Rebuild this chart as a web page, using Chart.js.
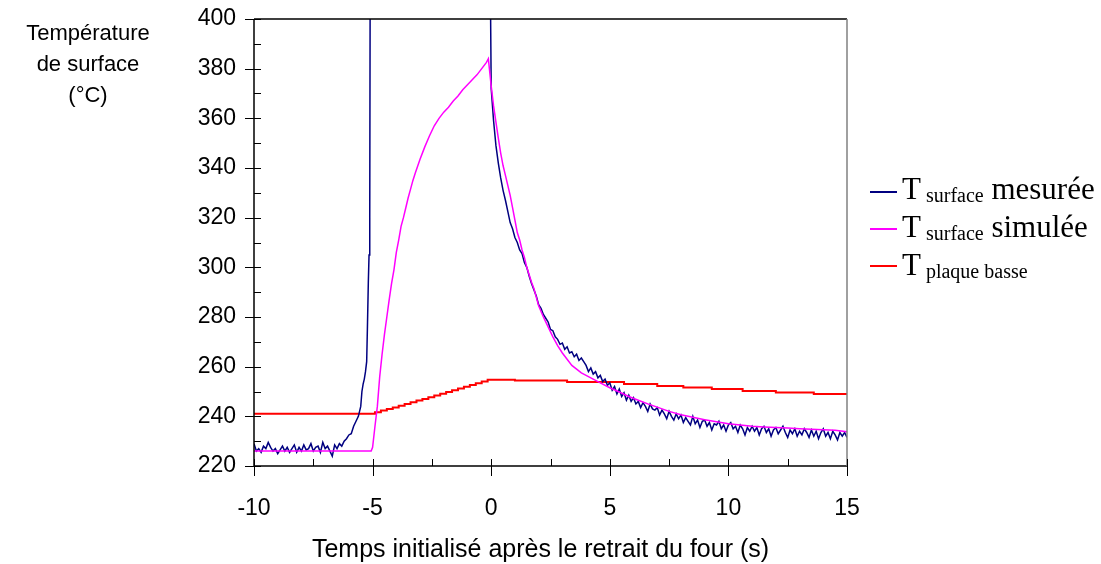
<!DOCTYPE html>
<html>
<head>
<meta charset="utf-8">
<script src="https://cdn.jsdelivr.net/npm/chart.js@4"></script>
<style>
  body { margin: 0; background: #fff; }
  #wrap { position: relative; width: 1101px; height: 564px; }
  .ytitle { position: absolute; left: 0; top: 17px; width: 176px; text-align: center;
            font: 22px "Liberation Sans", Arial, sans-serif; line-height: 31px; color: #000; }
  .xtitle { position: absolute; left: 0; top: 533px; width: 1081px; text-align: center;
            font: 25px "Liberation Sans", Arial, sans-serif; line-height: 30px; color: #000; }
  .leg-line { position: absolute; left: 870px; width: 27px; height: 0; border-top: 2px solid; }
  .leg-text { position: absolute; left: 902px; white-space: nowrap; color: #000;
              font: 31px "Liberation Serif", "Times New Roman", serif; line-height: 31px; }
  .leg-text span { font-size: 20px; position: relative; top: 3px; }
</style>
</head>
<body>
<div id="wrap">
  <canvas id="chart" width="1101" height="564"></canvas>
  <div class="ytitle">Température<br>de surface<br>(°C)</div>
  <div class="xtitle">Temps initialisé après le retrait du four (s)</div>
  <div class="leg-line" style="top:191px;border-color:#000080"></div>
  <div class="leg-text" style="top:173px">T<span> surface</span> mesurée</div>
  <div class="leg-line" style="top:228px;border-color:#ff00ff"></div>
  <div class="leg-text" style="top:211px">T<span> surface</span> simulée</div>
  <div class="leg-line" style="top:265px;border-color:#ff0000"></div>
  <div class="leg-text" style="top:249px">T<span> plaque basse</span></div>
</div>
<script>
// --- measured surface temperature ---
// flat part before heating, one value every 0.1 s starting at -10 s
const mesFlat = [229, 226, 227, 225.5, 228, 227, 229.5, 227.5, 226, 227,
  225, 226.5, 228, 226, 227.5, 225.5, 227, 228.5, 225.5, 227.5,
  226, 228.5, 226.5, 227, 229, 226, 227.5, 228, 225.5, 229.5,
  227, 228, 226, 224, 228.5, 227, 229, 228, 230, 231, 232.5];
// fast rise (last value is off the chart, above 400)
const mesRiseT = [-5.9, -5.8, -5.7, -5.6, -5.5, -5.45, -5.4, -5.35, -5.3, -5.25, -5.22, -5.18, -5.15, -5.12, -5.1];
const mesRiseY = [233, 236, 238, 240, 244, 250, 253, 255, 258, 262, 275, 294, 305, 320, 430];
// cooling after the sample leaves the oven, one value every 0.1 s from 0 s
const mesCool = [372, 359, 349, 342, 336, 331, 327, 322.5, 318, 315.5,
  312, 310, 307, 305.5, 302, 300, 296.5, 293.5, 291, 288.5,
  285, 283.5, 281, 279.5, 278, 275, 274.5, 272, 271, 269,
  269.5, 267, 268, 265.5, 266, 264, 265, 262.5, 263.5, 262,
  260.5, 258, 259.5, 257, 258, 255.5, 256.5, 254, 255, 252.5,
  253.5, 250.5, 252, 249, 251, 248, 249.5, 246.5, 248.5, 246,
  247.5, 245, 246, 243.5, 245.5, 244, 242, 245, 243, 242.5,
  243.5, 240.5, 242.5, 241, 239, 242, 240, 238.5, 241, 239,
  240.5, 237.5, 239.5, 238, 236.5, 240, 237, 238.5, 235.5, 238,
  238.5, 236, 237.5, 234.5, 237, 236.5, 238, 235, 236.5, 234,
  236.5, 237.5, 235, 236, 233.5, 236.5, 235, 232.5, 235.5, 234,
  236, 234, 235.5, 232.5, 235, 236, 233.5, 235, 232, 234.5,
  235.5, 233, 234.5, 236, 233.5, 231.5, 234.5, 233, 235, 232,
  234, 232.5, 235, 233.5, 231.5, 234.5, 232, 234, 231, 233.5,
  235, 232, 233.5, 231, 234, 232.5, 230.5, 233.5, 232, 233.5, 231.5];

// --- simulated surface temperature ---
const simT = [-10, -5.06, -5.0, -4.9, -4.8, -4.7, -4.6, -4.5, -4.4, -4.3, -4.2, -4.1, -4.0,
  -3.9, -3.8, -3.7, -3.6, -3.5, -3.4, -3.3, -3.2, -3.0, -2.8, -2.6, -2.4, -2.2, -2.0,
  -1.8, -1.6, -1.4, -1.2, -1.0, -0.8, -0.6, -0.4, -0.2, -0.12,
  0.0, 0.1, 0.2, 0.3, 0.4, 0.5, 0.6, 0.7, 0.8, 0.9, 1.0, 1.1, 1.2, 1.3, 1.4, 1.5,
  1.6, 1.7, 1.8, 1.9, 2.0, 2.2, 2.4, 2.6, 2.8, 3.0, 3.2, 3.4, 3.6, 3.8, 4.0, 4.3,
  4.6, 5.0, 5.4, 5.8, 6.2, 6.6, 7.0, 7.5, 8.0, 8.5, 9.0, 9.5, 10.0, 10.5, 11.0,
  11.5, 12.0, 12.5, 13.0, 13.5, 14.0, 14.5, 15.0];
const simY = [226, 226, 227.5, 236, 244, 256, 265, 273, 280, 287, 293.5, 299, 306,
  311, 316.5, 320, 324, 328, 331.5, 335, 338, 343.5, 348.5, 353, 357, 360, 362.5,
  364.5, 367, 369, 371.5, 373.5, 375.5, 377.5, 380, 382.5, 384,
  373, 365, 358.5, 352, 346, 341, 337, 333, 329, 324, 319, 314, 311, 307, 304, 300,
  297, 294, 291.5, 288, 284.5, 280, 276, 272, 268.5, 265.5, 263, 260.5, 259, 257.5, 256.5, 255,
  253.5, 251.5, 249.8, 248, 246.5, 245, 243.7, 242, 240.6, 239.6, 238.6, 237.8, 237, 236.5, 236,
  235.7, 235.5, 235.3, 235, 234.8, 234.6, 234.4, 233.8];

// --- lower plate temperature (recorded in steps) ---
const plaqueT = [-10, -4.9, -4.65, -4.4, -4.15, -3.9, -3.65, -3.4, -3.15, -2.9, -2.65,
  -2.4, -2.15, -1.9, -1.65, -1.4, -1.15, -0.9, -0.65, -0.4, -0.15,
  1.0, 3.2, 5.6, 7.0, 8.1, 9.3, 10.6, 12.0, 13.6, 15.0];
const plaqueY = [241, 241.6, 242.3, 243, 243.6, 244.3, 245, 245.7, 246.4, 247, 247.7,
  248.4, 249.1, 249.8, 250.5, 251.2, 251.9, 252.6, 253.3, 254, 254.7,
  254.4, 253.8, 253, 252.2, 251.6, 251, 250.2, 249.6, 249, 248.8];

const xTicks = { min: -10, max: 15, major: 5, minor: 2.5 };
const yTicks = { min: 220, max: 400, major: 20, minor: 10 };

// build point lists
const mesPoints = [];
mesFlat.forEach((v, i) => mesPoints.push({ x: -10 + i / 10, y: v }));
mesRiseT.forEach((t, i) => mesPoints.push({ x: t, y: mesRiseY[i] }));
mesPoints.push({ x: -2.5, y: null });
mesPoints.push({ x: -0.05, y: 430 });
mesCool.forEach((v, i) => mesPoints.push({ x: i / 10, y: v }));
const simPoints = simT.map((t, i) => ({ x: t, y: simY[i] }));
const plaquePoints = plaqueT.map((t, i) => ({ x: t, y: plaqueY[i] }));

// axis frame with Excel style crossing ticks
const frameTicks = {
  id: 'frameTicks',
  afterDatasetsDraw(chart) {
    const { ctx, chartArea: a, scales: { x, y } } = chart;
    ctx.save();
    ctx.lineWidth = 1.5;
    ctx.strokeStyle = '#000';
    ctx.beginPath();
    ctx.moveTo(a.left, a.top); ctx.lineTo(a.right, a.top);
    ctx.moveTo(a.left, a.top); ctx.lineTo(a.left, a.bottom);
    ctx.lineTo(a.right + 1, a.bottom);
    ctx.stroke();
    ctx.strokeStyle = '#808080';
    ctx.beginPath();
    ctx.moveTo(a.right, a.top); ctx.lineTo(a.right, a.bottom);
    ctx.stroke();

    ctx.strokeStyle = '#000';
    ctx.lineWidth = 1;
    ctx.beginPath();
    for (let v = yTicks.min; v <= yTicks.max; v += yTicks.minor) {
      const py = Math.round(y.getPixelForValue(v)) + 0.5;
      const isMajor = (v - yTicks.min) % yTicks.major === 0;
      ctx.moveTo(a.left - (isMajor ? 9 : 0), py);
      ctx.lineTo(a.left + 7, py);
    }
    for (let v = xTicks.min; v <= xTicks.max; v += xTicks.minor) {
      const px = Math.round(x.getPixelForValue(v)) + 0.5;
      const isMajor = (v - xTicks.min) % xTicks.major === 0;
      ctx.moveTo(px, a.bottom - 7);
      ctx.lineTo(px, a.bottom + (isMajor ? 10 : 0));
    }
    ctx.stroke();
    ctx.restore();
  }
};

Chart.defaults.font.family = '"Liberation Sans", Arial, sans-serif';
Chart.defaults.color = '#000';

new Chart(document.getElementById('chart'), {
  type: 'line',
  data: {
    datasets: [
      { label: 'T surface mesurée', data: mesPoints, borderColor: '#000080', borderWidth: 1.5,
        pointRadius: 0, spanGaps: false, order: 1 },
      { label: 'T surface simulée', data: simPoints, borderColor: '#ff00ff', borderWidth: 1.5,
        pointRadius: 0, order: 0 },
      { label: 'T plaque basse', data: plaquePoints, borderColor: '#ff0000', borderWidth: 2,
        pointRadius: 0, stepped: true, order: 2 }
    ]
  },
  options: {
    responsive: false,
    animation: false,
    devicePixelRatio: 1,
    layout: { padding: { left: 0, top: 19, right: 254, bottom: 0 } },
    plugins: { legend: { display: false }, tooltip: { enabled: false } },
    scales: {
      x: {
        type: 'linear', min: xTicks.min, max: xTicks.max,
        grid: { display: false, drawTicks: false }, border: { display: false },
        ticks: { stepSize: xTicks.major, padding: 29, font: { size: 23 }, autoSkip: false },
        afterFit: s => { s.height = 98; s.paddingLeft = 0; s.paddingRight = 0; }
      },
      y: {
        min: yTicks.min, max: yTicks.max,
        grid: { display: false, drawTicks: false }, border: { display: false },
        ticks: { stepSize: yTicks.major, padding: 18, font: { size: 23 }, autoSkip: false },
        afterFit: s => { s.width = 254; s.paddingTop = 0; s.paddingBottom = 0; }
      }
    }
  },
  plugins: [frameTicks]
});
</script>
</body>
</html>
